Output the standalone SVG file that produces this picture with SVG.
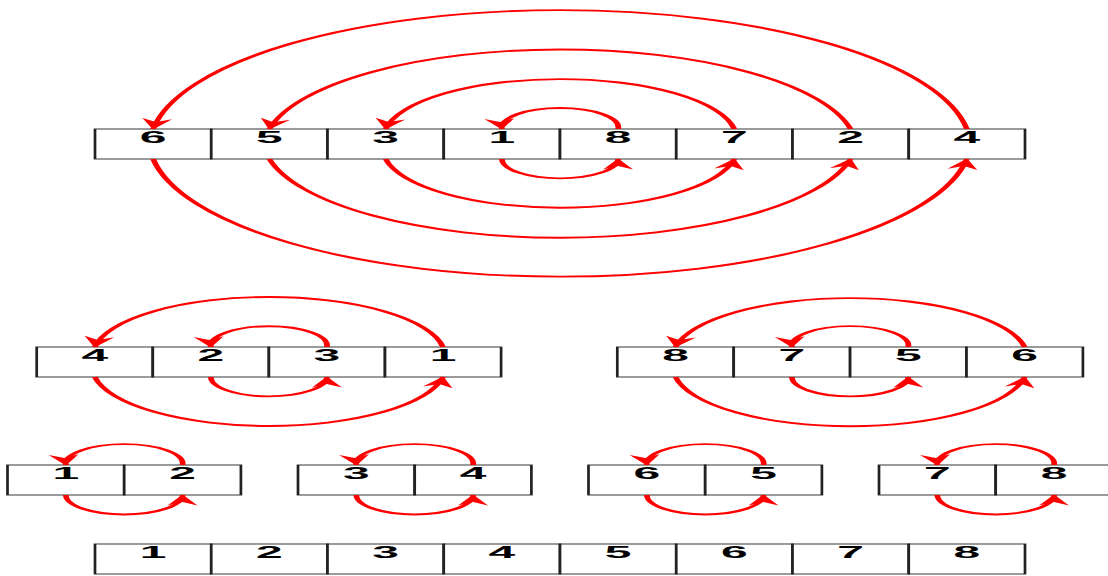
<svg xmlns="http://www.w3.org/2000/svg" width="1108" height="576" viewBox="0 0 1108 576">
<defs>
<style>
.cell{fill:#fff;stroke:#222;stroke-width:0.9}
.lbl{font-family:"Liberation Sans",Arial,Helvetica,sans-serif;font-weight:bold;font-size:16px;text-anchor:middle;fill:#000}
.arc{fill:none;stroke:#ff0000;stroke-width:1.9;marker-end:url(#ah)}
</style>
<marker id="ah" viewBox="-12 -6 13 12" refX="0" refY="0" markerWidth="13" markerHeight="12" orient="auto" markerUnits="userSpaceOnUse">
<path d="M0.5,0 L-10.5,-5 L-7,0 L-10.5,5 Z" fill="#ff0000"/>
</marker>
</defs>
<rect width="1108" height="576" fill="#fff"/>
<g transform="scale(3,1)">
<g id="row-top">
<g id="top-1"><rect class="cell" x="31.667" y="129" width="38.75" height="30"/><text class="lbl" x="51.042" y="142.8">6</text></g>
<g id="top-2"><rect class="cell" x="70.417" y="129" width="38.75" height="30"/><text class="lbl" x="89.792" y="142.8">5</text></g>
<g id="top-3"><rect class="cell" x="109.167" y="129" width="38.75" height="30"/><text class="lbl" x="128.542" y="142.8">3</text></g>
<g id="top-4"><rect class="cell" x="147.917" y="129" width="38.75" height="30"/><text class="lbl" x="167.292" y="142.8">1</text></g>
<g id="top-5"><rect class="cell" x="186.667" y="129" width="38.75" height="30"/><text class="lbl" x="206.042" y="142.8">8</text></g>
<g id="top-6"><rect class="cell" x="225.417" y="129" width="38.75" height="30"/><text class="lbl" x="244.792" y="142.8">7</text></g>
<g id="top-7"><rect class="cell" x="264.167" y="129" width="38.75" height="30"/><text class="lbl" x="283.542" y="142.8">2</text></g>
<g id="top-8"><rect class="cell" x="302.917" y="129" width="38.75" height="30"/><text class="lbl" x="322.292" y="142.8">4</text></g>
</g>
<g id="row-midleft">
<g id="ml-1"><rect class="cell" x="12.233" y="347" width="38.7" height="30"/><text class="lbl" x="31.583" y="360.8">4</text></g>
<g id="ml-2"><rect class="cell" x="50.933" y="347" width="38.7" height="30"/><text class="lbl" x="70.283" y="360.8">2</text></g>
<g id="ml-3"><rect class="cell" x="89.633" y="347" width="38.7" height="30"/><text class="lbl" x="108.983" y="360.8">3</text></g>
<g id="ml-4"><rect class="cell" x="128.333" y="347" width="38.7" height="30"/><text class="lbl" x="147.683" y="360.8">1</text></g>
</g>
<g id="row-midright">
<g id="mr-1"><rect class="cell" x="205.767" y="347" width="38.8" height="30"/><text class="lbl" x="225.167" y="360.8">8</text></g>
<g id="mr-2"><rect class="cell" x="244.567" y="347" width="38.8" height="30"/><text class="lbl" x="263.967" y="360.8">7</text></g>
<g id="mr-3"><rect class="cell" x="283.367" y="347" width="38.8" height="30"/><text class="lbl" x="302.767" y="360.8">5</text></g>
<g id="mr-4"><rect class="cell" x="322.167" y="347" width="38.8" height="30"/><text class="lbl" x="341.567" y="360.8">6</text></g>
</g>
<g id="row-pairs">
<g id="p1-1"><rect class="cell" x="2.5" y="465" width="38.9" height="30"/><text class="lbl" x="21.95" y="478.8">1</text></g>
<g id="p1-2"><rect class="cell" x="41.4" y="465" width="38.9" height="30"/><text class="lbl" x="60.85" y="478.8">2</text></g>
<g id="p2-1"><rect class="cell" x="99.333" y="465" width="38.9" height="30"/><text class="lbl" x="118.783" y="478.8">3</text></g>
<g id="p2-2"><rect class="cell" x="138.233" y="465" width="38.9" height="30"/><text class="lbl" x="157.683" y="478.8">4</text></g>
<g id="p3-1"><rect class="cell" x="196.167" y="465" width="38.9" height="30"/><text class="lbl" x="215.617" y="478.8">6</text></g>
<g id="p3-2"><rect class="cell" x="235.067" y="465" width="38.9" height="30"/><text class="lbl" x="254.517" y="478.8">5</text></g>
<g id="p4-1"><rect class="cell" x="293" y="465" width="38.9" height="30"/><text class="lbl" x="312.45" y="478.8">7</text></g>
<g id="p4-2"><rect class="cell" x="331.9" y="465" width="38.9" height="30"/><text class="lbl" x="351.35" y="478.8">8</text></g>
</g>
<g id="row-bottom">
<g id="bot-1"><rect class="cell" x="31.667" y="544" width="38.75" height="30"/><text class="lbl" x="51.042" y="557.8">1</text></g>
<g id="bot-2"><rect class="cell" x="70.417" y="544" width="38.75" height="30"/><text class="lbl" x="89.792" y="557.8">2</text></g>
<g id="bot-3"><rect class="cell" x="109.167" y="544" width="38.75" height="30"/><text class="lbl" x="128.542" y="557.8">3</text></g>
<g id="bot-4"><rect class="cell" x="147.917" y="544" width="38.75" height="30"/><text class="lbl" x="167.292" y="557.8">4</text></g>
<g id="bot-5"><rect class="cell" x="186.667" y="544" width="38.75" height="30"/><text class="lbl" x="206.042" y="557.8">5</text></g>
<g id="bot-6"><rect class="cell" x="225.417" y="544" width="38.75" height="30"/><text class="lbl" x="244.792" y="557.8">6</text></g>
<g id="bot-7"><rect class="cell" x="264.167" y="544" width="38.75" height="30"/><text class="lbl" x="283.542" y="557.8">7</text></g>
<g id="bot-8"><rect class="cell" x="302.917" y="544" width="38.75" height="30"/><text class="lbl" x="322.292" y="557.8">8</text></g>
</g>
<g id="connectors">
<path class="arc" d="M206.042,129 A19.44,19.44 0 1 0 167.292,129"/>
<path class="arc" d="M244.792,129 A58.8,58.8 0 0 0 128.542,129"/>
<path class="arc" d="M283.542,129 A98.77,98.77 0 0 0 89.792,129"/>
<path class="arc" d="M322.292,129 A136.8,136.8 0 0 0 51.042,129"/>
<path class="arc" d="M167.292,159 A19.375,19.375 0 0 0 206.042,159"/>
<path class="arc" d="M128.542,159 A59.04,59.04 0 0 0 244.792,159"/>
<path class="arc" d="M89.792,159 A98.97,98.97 0 0 0 283.542,159"/>
<path class="arc" d="M51.042,159 A137,137 0 0 0 322.292,159"/>
<path class="arc" d="M108.983,347 A19.4,19.4 0 1 0 70.283,347"/>
<path class="arc" d="M147.683,347 A58.7,58.7 0 0 0 31.583,347"/>
<path class="arc" d="M70.283,377 A19.35,19.35 0 0 0 108.983,377"/>
<path class="arc" d="M31.583,377 A58.9,58.9 0 0 0 147.683,377"/>
<path class="arc" d="M302.767,347 A19.45,19.45 0 1 0 263.967,347"/>
<path class="arc" d="M341.567,347 A59.1,59.1 0 0 0 225.167,347"/>
<path class="arc" d="M263.967,377 A19.4,19.4 0 0 0 302.767,377"/>
<path class="arc" d="M225.167,377 A59,59 0 0 0 341.567,377"/>
<path class="arc" d="M60.85,465 A19.5,19.5 0 1 0 21.95,465"/>
<path class="arc" d="M21.95,495 A19.45,19.45 0 0 0 60.85,495"/>
<path class="arc" d="M157.683,465 A19.5,19.5 0 1 0 118.783,465"/>
<path class="arc" d="M118.783,495 A19.45,19.45 0 0 0 157.683,495"/>
<path class="arc" d="M254.517,465 A19.5,19.5 0 1 0 215.617,465"/>
<path class="arc" d="M215.617,495 A19.45,19.45 0 0 0 254.517,495"/>
<path class="arc" d="M351.35,465 A19.5,19.5 0 1 0 312.45,465"/>
<path class="arc" d="M312.45,495 A19.45,19.45 0 0 0 351.35,495"/>
</g>
</g>
</svg>
